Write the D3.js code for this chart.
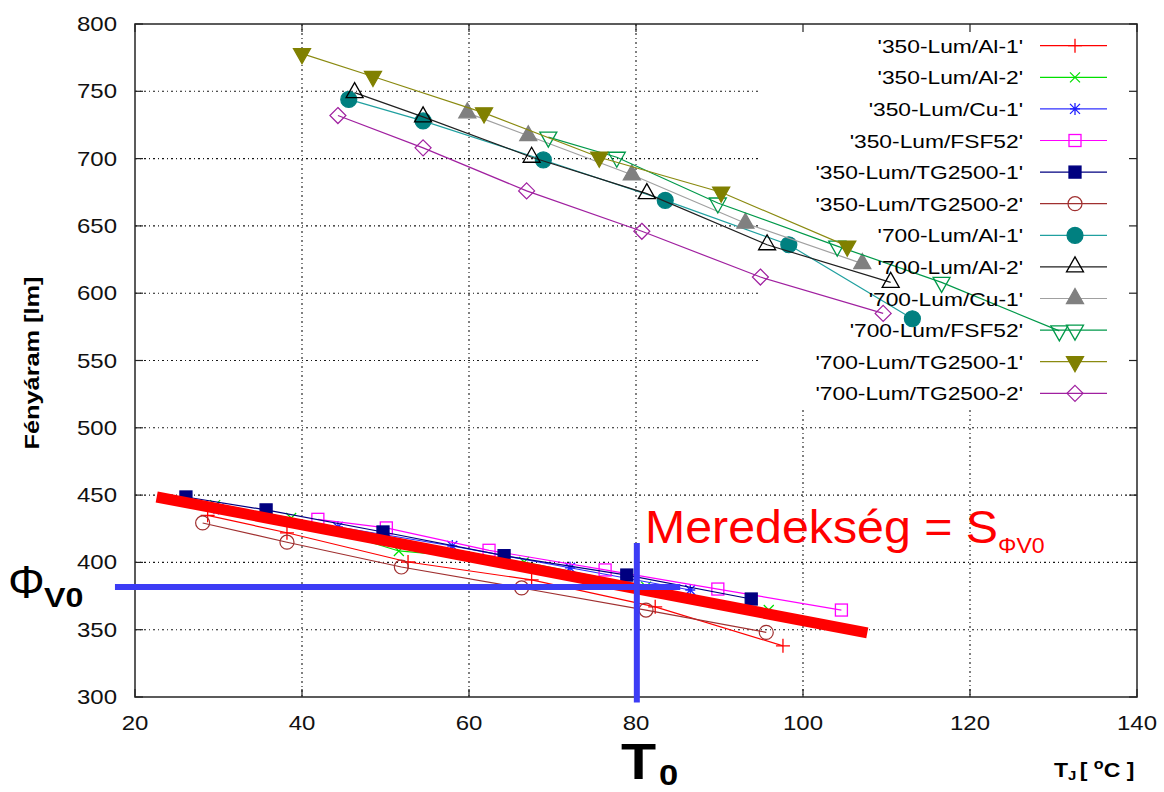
<!DOCTYPE html>
<html><head><meta charset="utf-8">
<script src="https://cdn.jsdelivr.net/npm/d3@7"></script>
<style>body{margin:0;background:#fff}svg{display:block}text{font-family:Arial,"Liberation Sans",sans-serif}</style>
</head><body><svg id="c" width="1164" height="792"></svg>
<script>
// ---- data ----
const xTicks = [20, 40, 60, 80, 100, 120, 140];
const yTicks = [300, 350, 400, 450, 500, 550, 600, 650, 700, 750, 800];
const seriesNames = ["'350-Lum/Al-1'", "'350-Lum/Al-2'", "'350-Lum/Cu-1'", "'350-Lum/FSF52'", "'350-Lum/TG2500-1'", "'350-Lum/TG2500-2'",
  "'700-Lum/Al-1'", "'700-Lum/Al-2'", "'700-Lum/Cu-1'", "'700-Lum/FSF52'", "'700-Lum/TG2500-1'", "'700-Lum/TG2500-2'"];
const lum350Al1T = [28.7, 38.2, 52.7, 67.5, 82.3, 97.6];
const lum350Al1V = [435, 422, 400.3, 387, 367, 338];
const lum350Al2T = [29.6, 38.7, 51.6, 66.6, 81.2, 95.9];
const lum350Al2V = [442.6, 433, 408.5, 400.3, 382, 364.6];
const lum350Cu1T = [30, 44.3, 58, 72.1, 86.5];
const lum350Cu1V = [440, 426.3, 412.2, 396, 379.5];
const lum350FSF52T = [41.9, 50.1, 62.4, 76.3, 89.8, 104.6];
const lum350FSF52V = [432, 425.6, 409, 394.4, 380.2, 364.6];
const lum350TG1T = [26.1, 35.7, 49.7, 64.2, 78.9, 93.8];
const lum350TG1V = [448.6, 439, 422.6, 405, 390.6, 372.8];
const lum350TG2T = [28.1, 38.2, 51.9, 66.3, 81.2, 95.6];
const lum350TG2V = [429.3, 415, 396.6, 381, 364.6, 348];
const lum700Al1T = [45.6, 54.5, 68.9, 83.5, 98.3, 113.1];
const lum700Al1V = [744, 728, 699, 669, 636, 581];
const lum700Al2T = [46.3, 54.5, 67.5, 81.3, 95.7, 110.5];
const lum700Al2V = [749, 731, 701, 674, 636, 608];
const lum700Cu1T = [59.8, 67.1, 79.5, 93.1, 107.1];
const lum700Cu1V = [734, 717, 688, 652, 622];
const lum700FSF52T = [69.5, 77.7, 89.8, 104.1, 116.6, 130.7];
const lum700FSF52V = [716, 701, 667, 635, 608, 572];
const lum700TG1T = [40, 48.5, 61.8, 75.6, 90.2, 105.3];
const lum700TG1V = [778, 761, 734, 701, 675, 635];
const lum700TG2T = [44.3, 54.5, 66.9, 80.7, 94.9, 109.6];
const lum700TG2V = [732, 708, 676, 646, 612, 585];
const seriesT = [lum350Al1T, lum350Al2T, lum350Cu1T, lum350FSF52T, lum350TG1T, lum350TG2T, lum700Al1T, lum700Al2T, lum700Cu1T, lum700FSF52T, lum700TG1T, lum700TG2T];
const seriesV = [lum350Al1V, lum350Al2V, lum350Cu1V, lum350FSF52V, lum350TG1V, lum350TG2V, lum700Al1V, lum700Al2V, lum700Cu1V, lum700FSF52V, lum700TG1V, lum700TG2V];
const lineColors = ["#ff0000", "#00e000", "#3030ff", "#ff00ff", "#000080", "#a03030", "#20a0a0", "#202020", "#a0a0a0", "#00994a", "#8a8a10", "#a020a0"];
const markColors = ["#ff0000", "#00e000", "#2020ff", "#ff00ff", "#000080", "#a03030", "#008080", "#000000", "#808080", "#00994a", "#808000", "#a020a0"];
const markerTypes = ["plus", "cross", "star", "square", "squareFill", "circle", "circleFill", "triUp", "triUpFill", "triDown", "triDownFill", "diamond"];
// annotation values
const slopeT = [22.6, 107.7];
const slopeV = [448.6, 347.6];
const T0 = 80.1;
const phiV0 = 381.7;
const hLineT = [17.6, 85.3];
const vLineV = [414.4, 296];

// ---- drawing ----
const svg = d3.select("#c");
const x = d3.scaleLinear().domain([20, 140]).range([135, 1137]);
const y = d3.scaleLinear().domain([300, 800]).range([697, 24]);
const L = 135, R = 1137, T = 24, B = 697;

// key area (grid not drawn through it)
const keyLeft = 760, keyBottom = 410;

const grid = svg.append("g").attr("stroke", "#000").attr("stroke-width", 1.1).attr("stroke-dasharray", "2,3,1,3").attr("opacity", 0.9);
xTicks.slice(1, -1).forEach(t => {
  const px = x(t);
  grid.append("line").attr("x1", px).attr("x2", px).attr("y1", px > keyLeft ? keyBottom : T).attr("y2", B);
});
yTicks.slice(1, -1).forEach(t => {
  const py = y(t);
  grid.append("line").attr("x1", L).attr("x2", py < keyBottom ? keyLeft : R).attr("y1", py).attr("y2", py);
});

// frame + ticks
svg.append("rect").attr("x", L).attr("y", T).attr("width", R - L).attr("height", B - T).attr("fill", "none").attr("stroke", "#333").attr("stroke-width", 1.6);
const tk = svg.append("g").attr("stroke", "#222").attr("stroke-width", 1.2);
xTicks.forEach(t => {
  tk.append("line").attr("x1", x(t)).attr("x2", x(t)).attr("y1", B).attr("y2", B - 8);
  tk.append("line").attr("x1", x(t)).attr("x2", x(t)).attr("y1", T).attr("y2", T + 8);
});
yTicks.forEach(t => {
  tk.append("line").attr("x1", L).attr("x2", L + 8).attr("y1", y(t)).attr("y2", y(t));
  tk.append("line").attr("x1", R).attr("x2", R - 8).attr("y1", y(t)).attr("y2", y(t));
});
xTicks.forEach(t => {
  svg.append("text").attr("transform", `translate(${x(t)},730) scale(1.2,1)`).attr("text-anchor", "middle")
    .attr("font-size", 20).attr("fill", "#111").text(t);
});
yTicks.forEach(t => {
  svg.append("text").attr("transform", `translate(117,${y(t) + 7}) scale(1.2,1)`).attr("text-anchor", "end")
    .attr("font-size", 20).attr("fill", "#111").text(t);
});
svg.append("text").attr("transform", "translate(39,363) rotate(-90)").attr("text-anchor", "middle")
  .attr("font-size", 20).attr("font-weight", "bold").attr("textLength", 173).attr("lengthAdjust", "spacingAndGlyphs").text("Fényáram [lm]");

// marker drawing
function marker(g, type, cx, cy, color) {
  const s = 7;
  if (type === "plus") {
    g.append("path").attr("d", `M${cx - s},${cy}H${cx + s}M${cx},${cy - s}V${cy + s}`).attr("stroke", color).attr("stroke-width", 1.3).attr("fill", "none");
  } else if (type === "cross") {
    const c = 5;
    g.append("path").attr("d", `M${cx - c},${cy - c}L${cx + c},${cy + c}M${cx - c},${cy + c}L${cx + c},${cy - c}`).attr("stroke", color).attr("stroke-width", 1.2).attr("fill", "none");
  } else if (type === "star") {
    const c = 5;
    g.append("path").attr("d", `M${cx - c},${cy}H${cx + c}M${cx},${cy - c - 1}V${cy + c + 1}M${cx - c},${cy - c}L${cx + c},${cy + c}M${cx - c},${cy + c}L${cx + c},${cy - c}`).attr("stroke", color).attr("stroke-width", 1.3).attr("fill", "none");
  } else if (type === "square" || type === "squareFill") {
    const c = 6;
    g.append("rect").attr("x", cx - c).attr("y", cy - c).attr("width", 2 * c).attr("height", 2 * c)
      .attr("fill", type === "squareFill" ? color : "none").attr("stroke", color).attr("stroke-width", 1.3);
  } else if (type === "circle" || type === "circleFill") {
    g.append("circle").attr("cx", cx).attr("cy", cy).attr("r", type === "circleFill" ? 8 : 7)
      .attr("fill", type === "circleFill" ? color : "none").attr("stroke", color).attr("stroke-width", 1.2);
  } else if (type === "triUp" || type === "triUpFill") {
    g.append("path").attr("d", `M${cx},${cy - 10}L${cx + 8.5},${cy + 5}L${cx - 8.5},${cy + 5}Z`)
      .attr("fill", type === "triUpFill" ? color : "none").attr("stroke", color).attr("stroke-width", 1.3);
  } else if (type === "triDown" || type === "triDownFill") {
    g.append("path").attr("d", `M${cx},${cy + 10}L${cx + 8.5},${cy - 5}L${cx - 8.5},${cy - 5}Z`)
      .attr("fill", type === "triDownFill" ? color : "none").attr("stroke", color).attr("stroke-width", 1.3);
  } else if (type === "diamond") {
    g.append("path").attr("d", `M${cx},${cy - 8}L${cx + 8},${cy}L${cx},${cy + 8}L${cx - 8},${cy}Z`)
      .attr("fill", "none").attr("stroke", color).attr("stroke-width", 1.2);
  }
}

const line = d3.line().x(d => x(d[0])).y(d => y(d[1]));
const plot = svg.append("g");
seriesNames.forEach((n, i) => {
  const pts = seriesT[i].map((t, j) => [t, seriesV[i][j]]);
  const g = plot.append("g");
  g.append("path").attr("d", line(pts)).attr("fill", "none").attr("stroke", lineColors[i]).attr("stroke-width", 1.2);
  pts.forEach(p => marker(g, markerTypes[i], x(p[0]), y(p[1]), markColors[i]));
});

// legend
const lg = svg.append("g");
seriesNames.forEach((n, i) => {
  const ly = 45.7 + i * 31.6;
  lg.append("text").attr("transform", `translate(1023,${ly + 7}) scale(1.2,1)`).attr("text-anchor", "end").attr("font-size", 19).attr("fill", "#000").text(n);
  lg.append("line").attr("x1", 1040).attr("x2", 1107).attr("y1", ly).attr("y2", ly).attr("stroke", lineColors[i]).attr("stroke-width", 1.2);
  marker(lg, markerTypes[i], 1075, ly, markColors[i]);
});

// annotations
svg.append("path").attr("d", line(slopeT.map((t, j) => [t, slopeV[j]]))).attr("stroke", "#ff0000").attr("stroke-width", 11).attr("fill", "none");
svg.append("line").attr("x1", x(hLineT[0])).attr("x2", x(hLineT[1])).attr("y1", y(phiV0)).attr("y2", y(phiV0)).attr("stroke", "#3c3cf5").attr("stroke-width", 6);
svg.append("line").attr("x1", x(T0)).attr("x2", x(T0)).attr("y1", y(vLineV[0])).attr("y2", y(vLineV[1])).attr("stroke", "#3c3cf5").attr("stroke-width", 6);

const mt = svg.append("text").attr("transform", "translate(645,543) scale(1.05,1)").attr("font-size", 46).attr("fill", "#ff0000");
mt.append("tspan").text("Meredekség = S");
mt.append("tspan").attr("font-size", 22).attr("dy", 10).text("ΦV0");

svg.append("text").attr("x", 8).attr("y", 598).attr("font-family", "'Liberation Serif','DejaVu Serif',serif").attr("font-size", 46).attr("fill", "#000").text("Φ");
svg.append("text").attr("transform", "translate(44,607) scale(1.15,1)").attr("font-size", 28).attr("font-weight", "bold").attr("fill", "#000").text("V0");
svg.append("text").attr("transform", "translate(621,779) scale(1.15,1)").attr("font-size", 50).attr("font-weight", "bold").attr("fill", "#000").text("T");
svg.append("text").attr("transform", "translate(659,785) scale(1.15,1)").attr("font-size", 30).attr("font-weight", "bold").attr("fill", "#000").text("0");

const xt = svg.append("text").attr("transform", "translate(1054,777) scale(1.15,1)").attr("font-weight", "bold").attr("font-size", 20).attr("fill", "#000");
xt.append("tspan").text("T");
xt.append("tspan").attr("font-size", 13).attr("dy", 3).text("J");
xt.append("tspan").attr("font-size", 20).attr("dy", -3).attr("dx", 3).text("[ ");
xt.append("tspan").attr("font-size", 14).attr("dy", -8).text("o");
xt.append("tspan").attr("font-size", 20).attr("dy", 8).text("C ]");
</script></body></html>
